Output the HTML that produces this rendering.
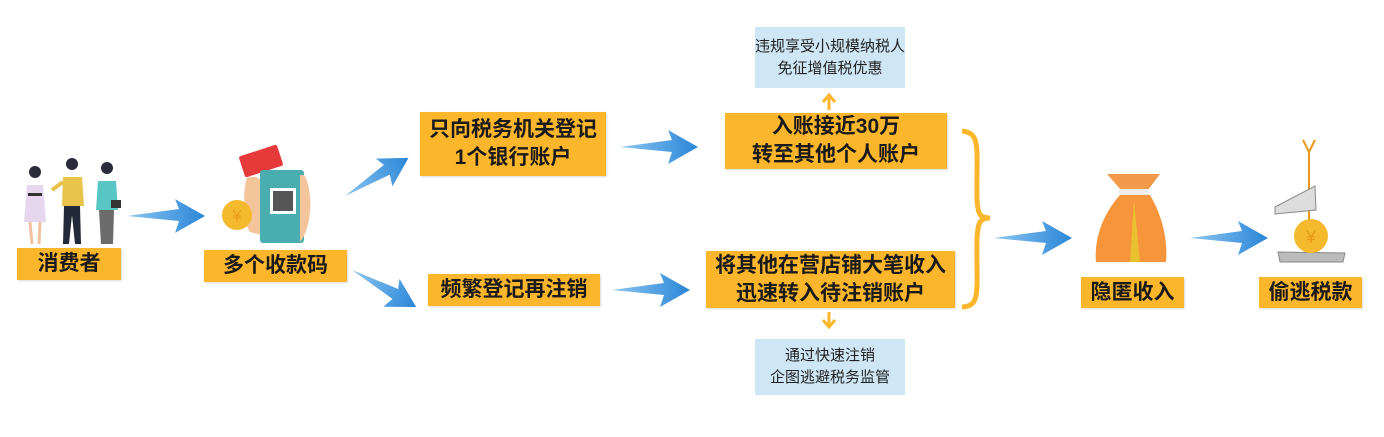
<!DOCTYPE html>
<html><head><meta charset="utf-8"><style>
body{margin:0;width:1384px;height:437px;background:#fff;position:relative;overflow:hidden;font-family:"Liberation Sans","Noto Sans CJK SC",sans-serif}
.o{position:absolute;background:#fbb62c;color:#1a1a1a;font-weight:bold;font-size:21px;line-height:28px;text-align:center;display:flex;align-items:center;justify-content:center;box-shadow:1px 1px 2px rgba(0,0,0,.15)}
.b{position:absolute;background:#cfe6f5;color:#222;font-size:15px;line-height:22px;text-align:center;display:flex;align-items:center;justify-content:center}
svg{position:absolute;left:0;top:0}
</style></head><body>
<svg width="1384" height="437">
<defs>
<linearGradient id="g" x1="0" x2="1" y1="0" y2="0"><stop offset="0" stop-color="#8cc6f0"/><stop offset="1" stop-color="#2a86d8"/></linearGradient>
<g id="ar"><path d="M0,0 L52,-7 L48,-17 L78,0 L48,17 L52,5 Z" fill="url(#g)"/></g>
</defs>
<use href="#ar" transform="translate(127,216)"/>
<use href="#ar" transform="translate(345,196) rotate(-31) scale(0.95)"/>
<use href="#ar" transform="translate(352,270) rotate(30) scale(0.95)"/>
<use href="#ar" transform="translate(620,147)"/>
<use href="#ar" transform="translate(612,290)"/>
<use href="#ar" transform="translate(994,238)"/>
<use href="#ar" transform="translate(1190,238)"/>
<path d="M829,110 V98 M823,102 L829,95 L835,102" stroke="#fbb62c" stroke-width="3" fill="none"/>
<path d="M829,312 V325 M823,320 L829,327 L835,320" stroke="#fbb62c" stroke-width="3" fill="none"/>
<path d="M962,131 C982,133 976,150 977,200 C978,215 980,218 990,218 C980,218 978,222 977,238 C976,290 982,306 962,307" stroke="#fbb62c" stroke-width="5" fill="none"/>
<g>
<circle cx="35" cy="172" r="6" fill="#2b2b3a"/><path d="M27,185 L43,185 L46,222 L24,222 Z" fill="#e6d7ee"/><rect x="28" y="193" width="14" height="3" fill="#333"/><path d="M30,222 L32,244 M40,222 L39,244" stroke="#f2c2a0" stroke-width="3"/>
<circle cx="72" cy="164" r="6" fill="#2b2b3a"/><path d="M63,177 L82,177 L84,206 L62,206 Z" fill="#e8c44a"/><path d="M64,206 L80,206 L81,244 L75,244 L72,215 L69,244 L63,244 Z" fill="#222a3a"/><path d="M63,182 L52,190" stroke="#e8c44a" stroke-width="4"/>
<circle cx="107" cy="168" r="6" fill="#2b2b3a"/><path d="M98,181 L116,181 L118,210 L96,210 Z" fill="#58c7c4"/><path d="M99,210 L114,210 L113,244 L101,244 Z" fill="#6b6b6b"/><rect x="111" y="200" width="10" height="8" fill="#333"/>
</g>
<g>
<rect x="241" y="150" width="40" height="22" rx="2" fill="#e63a3a" transform="rotate(-18 261 161)"/>
<path d="M247,178 C255,175 262,178 262,185 L262,235 L250,232 C244,225 242,190 247,178Z" fill="#f4c59a"/>
<rect x="260" y="170" width="44" height="73" rx="3" fill="#4aaeb0"/>
<rect x="270" y="188" width="26" height="26" fill="#fff"/><rect x="273" y="191" width="20" height="20" fill="#555"/>
<path d="M304,175 C312,185 314,225 300,242 L300,175Z" fill="#f4c59a"/>
<circle cx="237" cy="215" r="15" fill="#f4b92d"/><text x="237" y="221" font-size="16" text-anchor="middle" fill="#e89b1a">¥</text>
</g>
<g>
<path d="M1107,174 L1160,174 L1148,190 L1121,190 Z" fill="#f29a4a"/>
<rect x="1119" y="189" width="30" height="6" fill="#eee"/>
<path d="M1120,195 L1150,195 C1162,215 1168,240 1166,262 L1096,262 C1094,240 1102,215 1120,195Z" fill="#f7953d"/>
<path d="M1134,200 L1140,262 L1130,262 Z" fill="#e8c030"/>
</g>
<g>
<path d="M1303,140 L1309,152 L1315,140" stroke="#e89b1a" stroke-width="2" fill="none"/>
<line x1="1309" y1="152" x2="1309" y2="255" stroke="#e89b1a" stroke-width="2"/>
<path d="M1275,207 L1315,186 L1316,210 L1275,214 Z" fill="#ddd" stroke="#888"/>
<path d="M1278,252 L1345,253 L1343,262 L1280,262 Z" fill="#bbb" stroke="#888"/>
<circle cx="1311" cy="236" r="17" fill="#f4b92d"/><text x="1311" y="243" font-size="18" text-anchor="middle" fill="#e89b1a">¥</text>
</g>
</svg>
<div class="o" style="left:17px;top:248px;width:104px;height:32px">消费者</div>
<div class="o" style="left:204px;top:250px;width:143px;height:32px">多个收款码</div>
<div class="o" style="left:420px;top:112px;width:186px;height:64px">只向税务机关登记<br>1个银行账户</div>
<div class="o" style="left:428px;top:274px;width:172px;height:32px">频繁登记再注销</div>
<div class="o" style="left:725px;top:113px;width:222px;height:56px">入账接近30万<br>转至其他个人账户</div>
<div class="o" style="left:706px;top:251px;width:249px;height:57px">将其他在营店铺大笔收入<br>迅速转入待注销账户</div>
<div class="b" style="left:755px;top:27px;width:150px;height:61px">违规享受小规模纳税人<br>免征增值税优惠</div>
<div class="b" style="left:755px;top:339px;width:150px;height:56px">通过快速注销<br>企图逃避税务监管</div>
<div class="o" style="left:1081px;top:277px;width:103px;height:31px">隐匿收入</div>
<div class="o" style="left:1259px;top:277px;width:103px;height:31px">偷逃税款</div>
</body></html>
